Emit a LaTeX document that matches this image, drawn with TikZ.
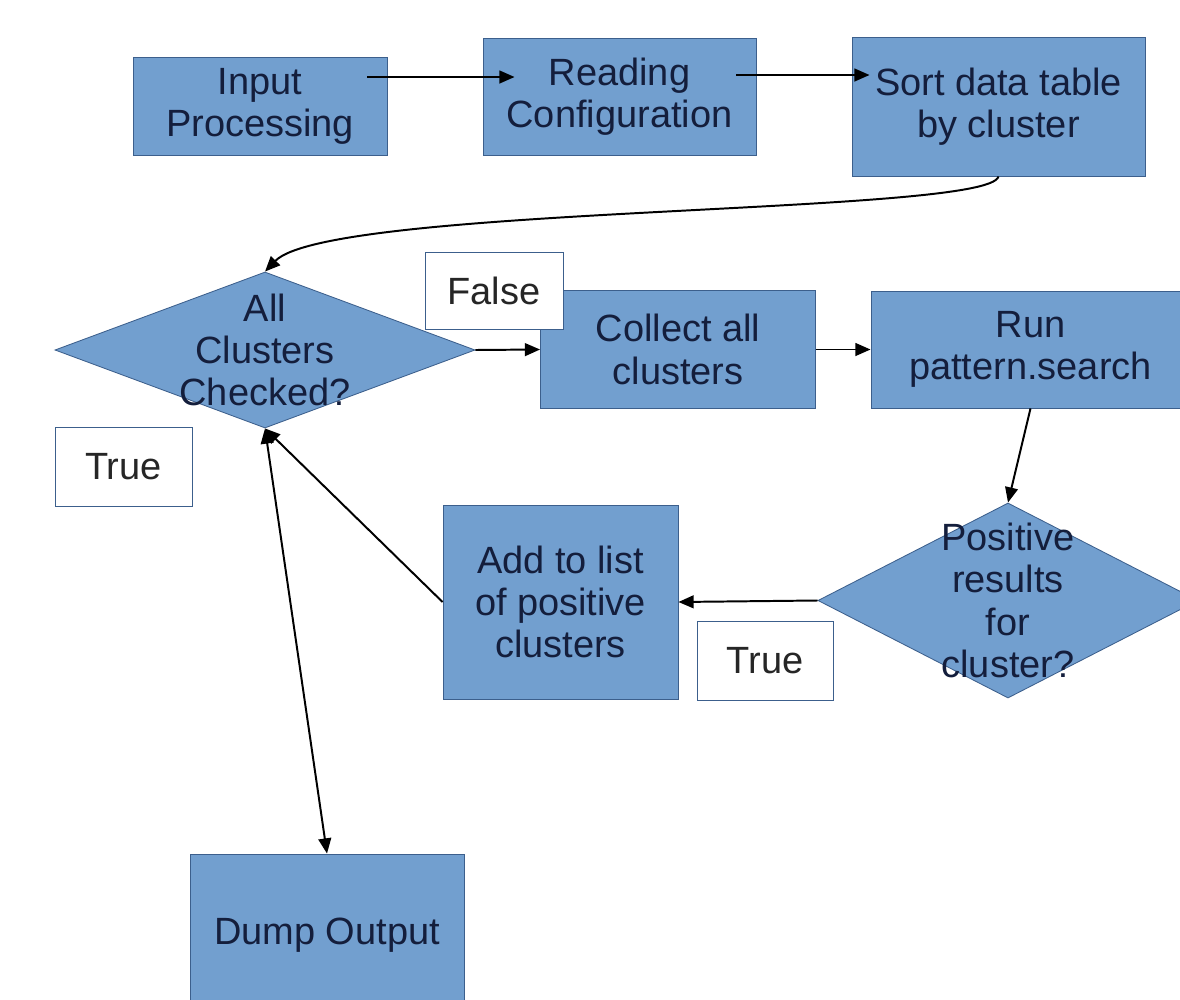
\documentclass[tikz,border=0pt]{standalone}
\usepackage{fontspec}
\setmainfont{Liberation Sans}
\usetikzlibrary{shapes.geometric,arrows.meta}
\definecolor{boxblue}{RGB}{114,159,207}
\definecolor{boxline}{RGB}{60,95,140}
\definecolor{boxtext}{RGB}{20,30,60}

\begin{document}
\begin{tikzpicture}[x=0.025cm,y=-0.025cm,
  >={Triangle[length=0.38cm,width=0.32cm]},
  box/.style={draw=boxline,line width=.6pt,fill=boxblue,text=boxtext,align=center,inner sep=0pt,font=\fontsize{27}{30}\selectfont},
  decision/.style={diamond,draw=boxline,line width=.6pt,fill=boxblue,inner sep=0pt},
  dtext/.style={text=boxtext,align=center,font=\fontsize{27}{30}\selectfont},
  lbl/.style={draw=boxline,line width=.6pt,fill=white,text=black!85,inner sep=0pt,font=\fontsize{27}{30}\selectfont},
  arr/.style={line width=1.4pt,->}]

\useasboundingbox (0,0) rectangle (1180,1000);
\fill[white] (0,0) rectangle (1180,1000);

% top row
\node[box,minimum width=6.35cm,minimum height=2.45cm] (inp) at (260,106) {Input\\Processing};
\node[box,minimum width=6.825cm,minimum height=2.925cm] (read) at (619.5,96.5) {Reading\\Configuration};
\node[box,minimum width=7.325cm,minimum height=3.475cm] (sort) at (998.5,106.5) {Sort data table\\by cluster};

% loop
\node[decision,minimum width=10.5cm,minimum height=3.9cm,
  label={[dtext]center:All\\Clusters\\Checked?}] (chk) at (265,350) {};
\node[box,minimum width=6.875cm,minimum height=2.95cm] (coll) at (678,349.5) {Collect all\\clusters};
\node[box,minimum width=7.975cm,minimum height=2.925cm] (run) at (1030.5,349.5) {Run\\pattern.search};
\node[decision,minimum width=9.5cm,minimum height=4.875cm,
  label={[dtext]center:Positive\\results\\for\\cluster?}] (pos) at (1008,600.5) {};
\node[box,minimum width=5.875cm,minimum height=4.85cm] (add) at (560.5,602) {Add to list\\of positive\\clusters};
\node[box,minimum width=6.85cm,minimum height=4.05cm] (dump) at (327,935) {Dump Output};

\draw[arr] ([shift={(-20,-29)}]inp.east) -- ([shift={(32,-19.5)}]read.west);
\draw[arr] ([shift={(-20,-21.5)}]read.east) -- ([shift={(18,-31.5)}]sort.west);
\draw[arr] (sort.south) .. controls +(-8.5,39) and +(65,-67) .. (chk.north);
\draw[arr] (chk.east) -- (coll.west);
\draw[arr] (coll.east) -- (run.west);
\draw[arr] (run.south) -- (pos.north);
\draw[arr] (pos.west) -- (add.east);
\draw[arr] (add.west) -- (chk.south);
\draw[arr,<->] (chk.south) -- (dump.north);

% branch labels
\node[lbl,minimum width=3.45cm,minimum height=1.925cm] (falselbl) at (494,290.5) {False};
\node[lbl,minimum width=3.425cm,minimum height=1.975cm] (truechk) at (123.5,466.5) {True};
\node[lbl,minimum width=3.4cm,minimum height=1.975cm] (truepos) at (765,660.5) {True};
\end{tikzpicture}
\end{document}
